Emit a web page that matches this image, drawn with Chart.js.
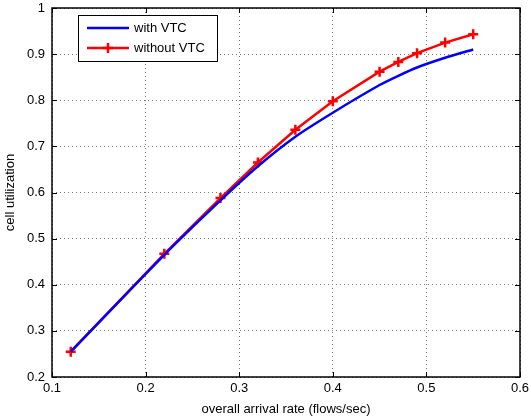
<!DOCTYPE html>
<html>
<head>
<meta charset="utf-8">
<script src="https://cdn.jsdelivr.net/npm/chart.js@4"></script>
<style>
  html, body { margin: 0; padding: 0; background: #fff; }
  #chart { display: block; }
</style>
</head>
<body>
<canvas id="chart" width="531" height="417"></canvas>
<script>
// arrival rates (flows/sec)
const arrivalRates = [0.12, 0.22, 0.28, 0.32, 0.36, 0.40, 0.45, 0.47, 0.49, 0.52, 0.55];
const withVTC = [0.255, 0.465, 0.583, 0.657, 0.721, 0.773, 0.833, 0.853, 0.871, 0.892, 0.910];
const withoutVTC = [0.255, 0.467, 0.588, 0.665, 0.736, 0.798, 0.862, 0.883, 0.902, 0.925, 0.943];
const xTicks = [0.1, 0.2, 0.3, 0.4, 0.5, 0.6];
const yTicks = [0.2, 0.3, 0.4, 0.5, 0.6, 0.7, 0.8, 0.9, 1];

const FONT = 'Liberation Sans, Arial, Helvetica, sans-serif';

const toPoints = (xs, ys) => xs.map((x, i) => ({ x: x, y: ys[i] }));

// legend box in the top-left corner, matlab style
const boxLegend = {
  id: 'boxLegend',
  afterDraw(chart) {
    const c = chart.ctx;
    const area = chart.chartArea;
    const x0 = area.left + 26, y0 = area.top + 7;
    const w = 139, h = 46;
    c.save();
    c.fillStyle = '#fff';
    c.fillRect(x0, y0, w, h);
    c.strokeStyle = '#000';
    c.lineWidth = 1;
    c.strokeRect(x0 + 0.5, y0 + 0.5, w, h);
    c.font = '13px ' + FONT;
    c.textBaseline = 'middle';
    chart.data.datasets.forEach((ds, i) => {
      const y = y0 + 13 + i * 20;
      c.strokeStyle = ds.borderColor;
      c.lineWidth = 2.5;
      c.beginPath();
      c.moveTo(x0 + 9, y);
      c.lineTo(x0 + 51, y);
      c.stroke();
      if (ds.pointRadius > 0) {
        c.beginPath();
        c.moveTo(x0 + 30 - 5, y); c.lineTo(x0 + 30 + 5, y);
        c.moveTo(x0 + 30, y - 5); c.lineTo(x0 + 30, y + 5);
        c.stroke();
      }
      c.fillStyle = '#000';
      c.fillText(ds.label, x0 + 56, y);
    });
    c.restore();
  }
};

// frame plus inward tick marks
const frame = {
  id: 'frame',
  afterDatasetsDraw(chart) {
    const c = chart.ctx, a = chart.chartArea;
    const sx = chart.scales.x, sy = chart.scales.y;
    c.save();
    c.strokeStyle = '#000';
    c.lineWidth = 1;
    c.beginPath();
    xTicks.forEach(v => {
      const px = Math.round(sx.getPixelForValue(v)) + 0.5;
      c.moveTo(px, a.bottom); c.lineTo(px, a.bottom - 5);
      c.moveTo(px, a.top); c.lineTo(px, a.top + 5);
    });
    yTicks.forEach(v => {
      const py = Math.round(sy.getPixelForValue(v)) + 0.5;
      c.moveTo(a.left, py); c.lineTo(a.left + 5, py);
      c.moveTo(a.right, py); c.lineTo(a.right - 5, py);
    });
    c.stroke();
    c.lineWidth = 1.5;
    c.strokeRect(a.left, a.top, a.right - a.left, a.bottom - a.top);
    c.restore();
  }
};

new Chart(document.getElementById('chart'), {
  type: 'line',
  data: {
    datasets: [
      {
        label: 'with VTC',
        data: toPoints(arrivalRates, withVTC),
        borderColor: '#0000ff',
        borderWidth: 2.5,
        pointRadius: 0,
        tension: 0.25
      },
      {
        label: 'without VTC',
        data: toPoints(arrivalRates, withoutVTC),
        borderColor: '#ff0000',
        borderWidth: 2.5,
        pointStyle: 'cross',
        pointRadius: 5,
        pointBorderWidth: 2.5,
        pointBorderColor: '#ff0000',
        tension: 0
      }
    ]
  },
  options: {
    responsive: false,
    animation: false,
    layout: { padding: { top: 8, right: 11, left: 3, bottom: 0 } },
    plugins: { legend: { display: false }, tooltip: { enabled: false } },
    scales: {
      x: {
        type: 'linear',
        min: 0.1,
        max: 0.6,
        afterBuildTicks: s => { s.ticks = xTicks.map(v => ({ value: v })); },
        afterFit: s => { s.height = 40; s.paddingLeft = 0; s.paddingRight = 0; },
        grid: { color: '#777', lineWidth: 1, drawTicks: false },
        border: { display: false, dash: [1, 3] },
        ticks: { color: '#000', font: { family: FONT, size: 13 }, padding: 4, maxRotation: 0, callback: v => String(v) },
        title: { display: true, text: 'overall arrival rate (flows/sec)', color: '#000', font: { family: FONT, size: 13 }, padding: { top: 1, bottom: 0 } }
      },
      y: {
        min: 0.2,
        max: 1,
        afterBuildTicks: s => { s.ticks = yTicks.map(v => ({ value: v })); },
        afterFit: s => { s.width = 49; s.paddingTop = 0; s.paddingBottom = 0; },
        grid: { color: '#777', lineWidth: 1, drawTicks: false },
        border: { display: false, dash: [1, 3] },
        ticks: { color: '#000', font: { family: FONT, size: 13 }, padding: 7, callback: v => String(v) },
        title: { display: true, text: 'cell utilization', color: '#000', font: { family: FONT, size: 13 }, padding: { top: 0, bottom: 0 } }
      }
    }
  },
  plugins: [frame, boxLegend]
});
</script>
</body>
</html>
